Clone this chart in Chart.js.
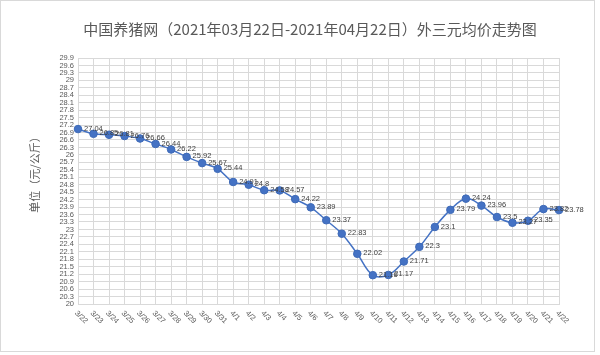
<!DOCTYPE html>
<html>
<head>
<meta charset="utf-8">
<script src="https://cdn.jsdelivr.net/npm/chart.js@4/dist/chart.umd.min.js"></script>
<style>
html,body{margin:0;padding:0;background:#fff;}
#wrap{position:relative;width:600px;height:355px;}
#frame{position:absolute;left:0;top:0;width:595px;height:352px;border:1px solid #d9d9d9;box-sizing:border-box;pointer-events:none;}
</style>
</head>
<body>
<div id="wrap">
<canvas id="c" width="600" height="355"></canvas>
<div id="frame"></div>
</div>
<script>
const titleText = '中国养猪网（2021年03月22日-2021年04月22日）外三元均价走势图';
const yTitle = '单位（元/公斤）';
const categories = ['3/22','3/23','3/24','3/25','3/26','3/27','3/28','3/29','3/30','3/31',
  '4/1','4/2','4/3','4/4','4/5','4/6','4/7','4/8','4/9','4/10','4/11','4/12','4/13','4/14',
  '4/15','4/16','4/17','4/18','4/19','4/20','4/21','4/22'];
const prices = [27.04,26.85,26.81,26.76,26.66,26.44,26.22,25.92,25.67,25.44,
  24.91,24.8,24.58,24.57,24.22,23.89,23.37,22.83,22.02,21.16,21.17,21.71,22.3,23.1,
  23.79,24.24,23.96,23.5,23.27,23.35,23.82,23.78];
const yTicks = [20,20.3,20.6,20.9,21.2,21.5,21.8,22.1,22.4,22.7,23,23.3,23.6,23.9,24.2,24.5,
  24.8,25.1,25.4,25.7,26,26.3,26.6,26.9,27.2,27.5,27.8,28.1,28.4,28.7,29,29.3,29.6,29.9];

const decor = {
  id: 'decor',
  afterDraw(chart) {
    const ctx = chart.ctx;
    const xs = chart.scales.x, ys = chart.scales.y;
    ctx.save();
    // title
    ctx.fillStyle = '#595959';
    ctx.font = '15px "Noto Sans CJK SC", sans-serif';
    ctx.textAlign = 'center';
    ctx.textBaseline = 'middle';
    ctx.fillText(titleText, 310, 29);
    // y axis title
    ctx.save();
    ctx.translate(35, 172);
    ctx.rotate(-Math.PI / 2);
    ctx.font = '11px "Noto Sans CJK SC", sans-serif';
    ctx.fillText(yTitle, 0, 0);
    ctx.restore();
    // x tick labels, rotated clockwise
    ctx.font = '7.5px "Liberation Sans", sans-serif';
    ctx.fillStyle = '#595959';
    ctx.textAlign = 'left';
    ctx.textBaseline = 'middle';
    categories.forEach((lab, i) => {
      const x = xs.getPixelForValue(i);
      ctx.save();
      ctx.translate(x - 2, ys.bottom + 8);
      ctx.rotate(Math.PI / 4);
      ctx.fillText(lab, 0, 0);
      ctx.restore();
    });
    // data labels
    ctx.fillStyle = '#404040';
    ctx.font = '7.5px "Liberation Sans", sans-serif';
    ctx.textAlign = 'left';
    ctx.textBaseline = 'middle';
    const meta = chart.getDatasetMeta(0);
    meta.data.forEach((pt, i) => {
      ctx.fillText(String(prices[i]), pt.x + 6, pt.y - 0.5);
    });
    ctx.restore();
  }
};

new Chart(document.getElementById('c'), {
  type: 'line',
  data: {
    labels: categories,
    datasets: [{
      data: prices,
      borderColor: '#4472C4',
      borderWidth: 1.5,
      backgroundColor: '#4472C4',
      pointBackgroundColor: '#4472C4',
      pointBorderColor: '#3e6ab7',
      pointRadius: 3.8,
      pointBorderWidth: 1,
      tension: 0.4,
      clip: false
    }]
  },
  options: {
    responsive: false,
    animation: false,
    events: [],
    layout: { padding: { left: 0, top: 58, right: 41, bottom: 51 } },
    plugins: { legend: { display: false }, tooltip: { enabled: false }, title: { display: false } },
    scales: {
      x: {
        offset: false,
        grid: { color: '#d9d9d9', drawTicks: false, lineWidth: 1 },
        border: { color: '#d9d9d9' },
        ticks: { display: false }
      },
      y: {
        min: 20,
        max: 29.9,
        afterBuildTicks: (s) => { s.ticks = yTicks.map(v => ({ value: v })); },
        afterFit: (s) => { s.width = 78; },
        grid: { color: '#d9d9d9', drawTicks: false, lineWidth: 1 },
        border: { color: '#d9d9d9' },
        ticks: {
          autoSkip: false,
          padding: 4,
          color: '#595959',
          font: { family: 'Liberation Sans', size: 7.5 },
          callback: (v) => String(v)
        }
      }
    }
  },
  plugins: [decor]
});
</script>
</body>
</html>
